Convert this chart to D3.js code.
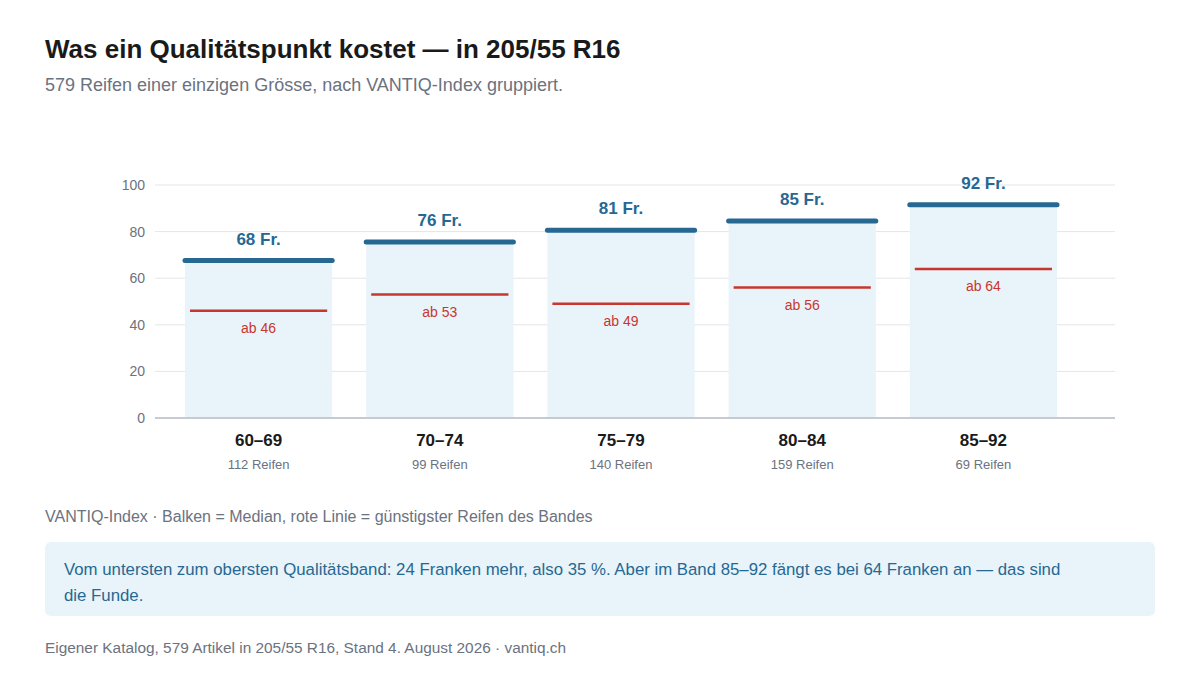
<!DOCTYPE html>
<html><head><meta charset="utf-8">
<script src="https://cdn.jsdelivr.net/npm/d3@7"></script>
<style>
body{margin:0;background:#fff;font-family:"Liberation Sans",Arial,sans-serif;}
</style></head>
<body><div id="chart"></div>
<script>
var bands = ["60–69", "70–74", "75–79", "80–84", "85–92"];
var counts = [112, 99, 140, 159, 69];
var medians = [68, 76, 81, 85, 92];
var minima = [46, 53, 49, 56, 64];
var yTicks = [0, 20, 40, 60, 80, 100];

var W = 1200, H = 674;
var svg = d3.select("#chart").append("svg").attr("width", W).attr("height", H);

svg.append("text").attr("x", 45).attr("y", 58).text("Was ein Qualitätspunkt kostet — in 205/55 R16")
    .style("font-size", "26px").style("font-weight", "bold").style("fill", "#1a1a1a");
svg.append("text").attr("x", 45).attr("y", 91).text("579 Reifen einer einzigen Grösse, nach VANTIQ-Index gruppiert.")
    .style("font-size", "18px").style("fill", "#6b7280");

var x = d3.scaleBand().domain(bands).range([155, 1087]).paddingInner(0.1876).paddingOuter(0.1655);
var y = d3.scaleLinear().domain([0, 100]).range([418, 185]);

// grid
svg.selectAll(".grid").data(yTicks).enter().append("line")
    .attr("x1", 155).attr("x2", 1115)
    .attr("y1", function(d){ return y(d); }).attr("y2", function(d){ return y(d); })
    .style("stroke", function(d){ return d == 0 ? "#c5cad3" : "#e3e5e8"; })
    .style("stroke-width", function(d){ return d == 0 ? 2 : 1; });
svg.selectAll(".ytick").data(yTicks).enter().append("text")
    .attr("x", 145).attr("y", function(d){ return y(d) + 5; })
    .attr("text-anchor", "end").text(function(d){ return d; })
    .style("font-size", "14px").style("fill", "#6b7280");

var g = svg.selectAll(".band").data(bands).enter().append("g");

g.append("rect")
    .attr("x", function(d){ return x(d); }).attr("width", x.bandwidth())
    .attr("y", function(d, i){ return y(medians[i]); })
    .attr("height", function(d, i){ return y(0) - y(medians[i]) - 1; })
    .style("fill", "#e9f3fa");
g.append("line")
    .attr("x1", function(d){ return x(d); }).attr("x2", function(d){ return x(d) + x.bandwidth(); })
    .attr("y1", function(d, i){ return y(medians[i]) + 1; }).attr("y2", function(d, i){ return y(medians[i]) + 1; })
    .style("stroke", "#266892").style("stroke-width", 5).style("stroke-linecap", "round");
g.append("text")
    .attr("x", function(d){ return x(d) + x.bandwidth() / 2; })
    .attr("y", function(d, i){ return y(medians[i]) - 15; })
    .attr("text-anchor", "middle").text(function(d, i){ return medians[i] + " Fr."; })
    .style("font-size", "17px").style("font-weight", "bold").style("fill", "#266892");
g.append("line")
    .attr("x1", function(d){ return x(d) + 5; }).attr("x2", function(d){ return x(d) + x.bandwidth() - 5; })
    .attr("y1", function(d, i){ return y(minima[i]); }).attr("y2", function(d, i){ return y(minima[i]); })
    .style("stroke", "#c8372d").style("stroke-width", 2.5);
g.append("text")
    .attr("x", function(d){ return x(d) + x.bandwidth() / 2; })
    .attr("y", function(d, i){ return y(minima[i]) + 22; })
    .attr("text-anchor", "middle").text(function(d, i){ return "ab " + minima[i]; })
    .style("font-size", "14px").style("fill", "#c8372d");
g.append("text")
    .attr("x", function(d){ return x(d) + x.bandwidth() / 2; }).attr("y", 446)
    .attr("text-anchor", "middle").text(function(d){ return d; })
    .style("font-size", "17px").style("font-weight", "bold").style("fill", "#1a1a1a");
g.append("text")
    .attr("x", function(d){ return x(d) + x.bandwidth() / 2; }).attr("y", 469)
    .attr("text-anchor", "middle").text(function(d, i){ return counts[i] + " Reifen"; })
    .style("font-size", "13px").style("fill", "#6b7280");

svg.append("text").attr("x", 45).attr("y", 522)
    .text("VANTIQ-Index · Balken = Median, rote Linie = günstigster Reifen des Bandes")
    .style("font-size", "16px").style("fill", "#6b7280");

svg.append("rect").attr("x", 45).attr("y", 542).attr("width", 1110).attr("height", 74).attr("rx", 6)
    .style("fill", "#e9f3fa");
svg.append("text").attr("x", 64).attr("y", 575)
    .text("Vom untersten zum obersten Qualitätsband: 24 Franken mehr, also 35 %. Aber im Band 85–92 fängt es bei 64 Franken an — das sind")
    .style("font-size", "16.8px").style("fill", "#266892");
svg.append("text").attr("x", 64).attr("y", 601).text("die Funde.")
    .style("font-size", "16.8px").style("fill", "#266892");

svg.append("text").attr("x", 45).attr("y", 653)
    .text("Eigener Katalog, 579 Artikel in 205/55 R16, Stand 4. August 2026 · vantiq.ch")
    .style("font-size", "15.4px").style("fill", "#6b7280");
</script></body></html>
